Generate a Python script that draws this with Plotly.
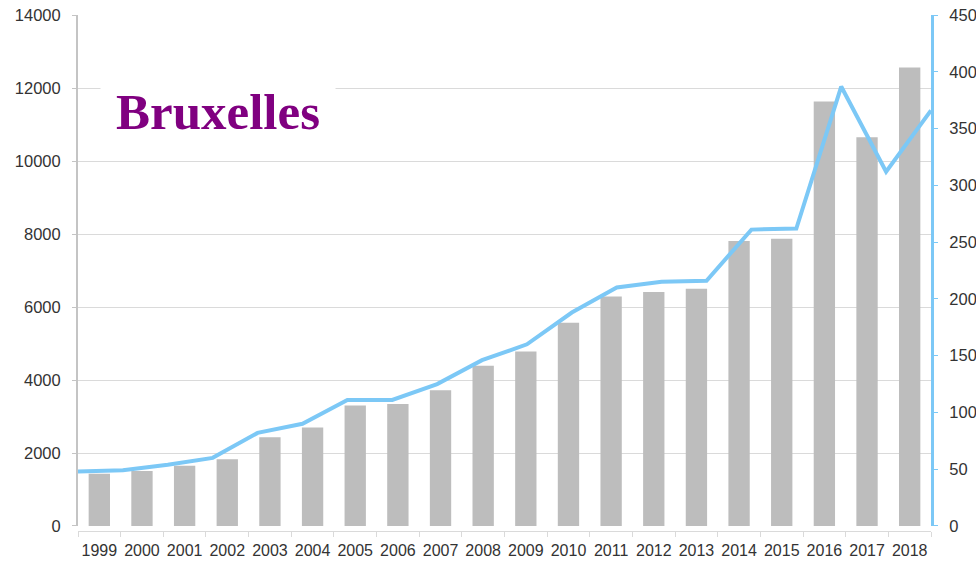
import plotly.graph_objects as go

# Years and the two series
years = [str(y) for y in range(1999, 2019)]
bar_values = [1430, 1510, 1650, 1830, 2430, 2700, 3300, 3340, 3720, 4390,
              4780, 5570, 6290, 6410, 6500, 7810, 7870, 11630, 10650, 12560]
line_values = [48, 49, 54, 60, 82, 90, 111, 111, 125, 146,
               160, 188, 210, 215, 216, 261, 262, 387, 312, 366]

left_ticks = list(range(0, 14001, 2000))
left_labels = [str(v) for v in left_ticks]
right_ticks = list(range(0, 451, 50))
right_labels = [str(v) for v in right_ticks]

BAR_COLOR = "#bdbdbd"
LINE_COLOR = "#7cc8f6"
GRID_COLOR = "#dadada"
TEXT_COLOR = "#333333"
FONT = "Liberation Sans, Arial, sans-serif"

fig = go.Figure()

fig.add_trace(go.Bar(
    x=years, y=bar_values, marker=dict(color=BAR_COLOR, line=dict(width=0)),
    xaxis="x", yaxis="y", showlegend=False,
))

fig.add_trace(go.Scatter(
    x=[int(y) for y in years], y=line_values, mode="lines",
    line=dict(color=LINE_COLOR, width=4),
    xaxis="x2", yaxis="y2", showlegend=False,
))

y_bottom = 0.0097

fig.update_layout(
    width=976, height=563,
    margin=dict(l=78, r=45, t=15, b=32),
    paper_bgcolor="white", plot_bgcolor="white",
    bargap=0.5,
    xaxis=dict(
        type="category", anchor="free", position=0,
        showline=True, linecolor=GRID_COLOR, linewidth=1,
        ticks="outside", tickson="boundaries", ticklen=5, tickcolor=GRID_COLOR,
        showgrid=False, tickangle=0, automargin=False,
        ticklabelstandoff=5,
        tickfont=dict(family=FONT, size=16, color=TEXT_COLOR),
    ),
    xaxis2=dict(
        overlaying="x", range=[1999, 2018], visible=False,
    ),
    yaxis=dict(
        domain=[y_bottom, 1], range=[0, 14000],
        tickmode="array", tickvals=left_ticks, ticktext=left_labels,
        showline=True, linecolor="#c4c4c4", linewidth=2,
        ticks="outside", ticklen=4, tickcolor="#c4c4c4",
        showgrid=True, gridcolor=GRID_COLOR, gridwidth=1,
        zeroline=False, automargin=False,
        ticklabelstandoff=8,
        tickfont=dict(family=FONT, size=16.5, color=TEXT_COLOR),
    ),
    yaxis2=dict(
        domain=[y_bottom, 1], range=[0, 450],
        tickmode="array", tickvals=right_ticks, ticktext=right_labels,
        overlaying="y", side="right", anchor="x",
        showline=True, linecolor=LINE_COLOR, linewidth=3,
        ticks="outside", ticklen=4, tickcolor=LINE_COLOR,
        showgrid=False, zeroline=False, automargin=False,
        ticklabelstandoff=8,
        tickfont=dict(family=FONT, size=16.5, color=TEXT_COLOR),
    ),
    annotations=[dict(
        text="<b>Bruxelles</b>",
        xref="paper", yref="paper", x=0.164, y=0.812,
        xanchor="center", yanchor="middle",
        showarrow=False, bgcolor="white", borderpad=0,
        width=234, height=70,
        font=dict(family="Liberation Serif, Times New Roman, serif", size=51, color="#800080"),
    )],
)

fig.write_html("out.html")
